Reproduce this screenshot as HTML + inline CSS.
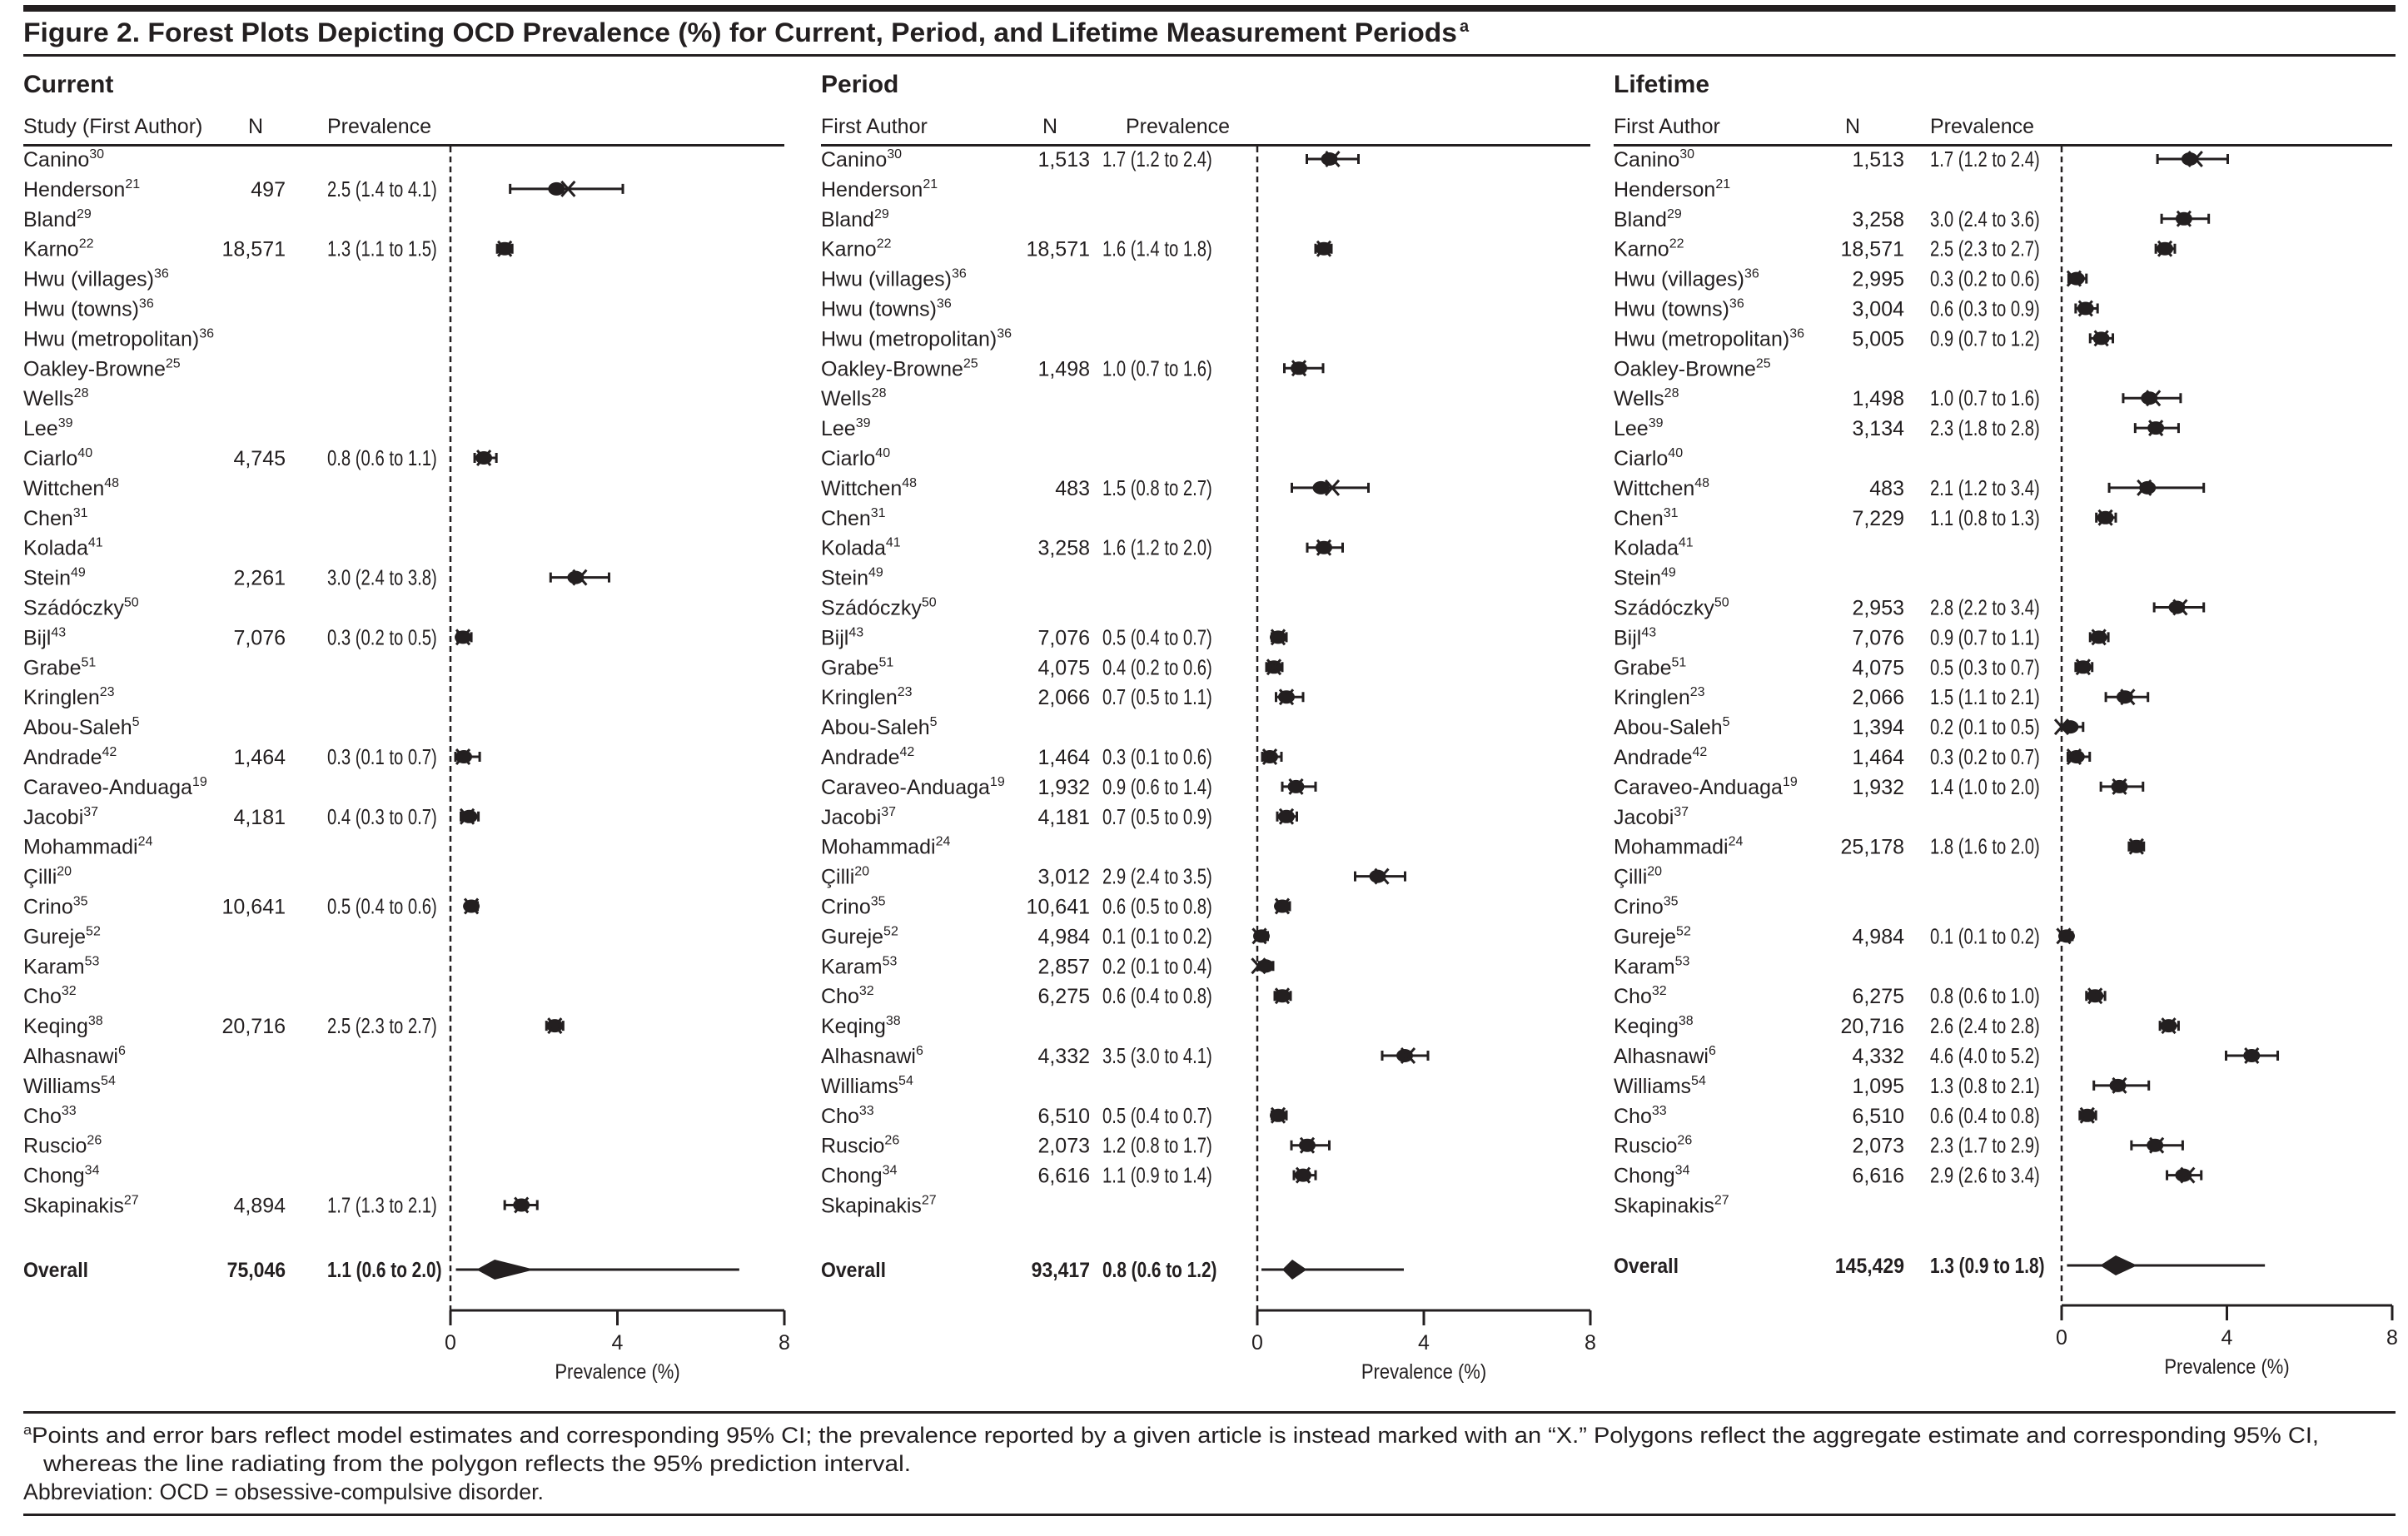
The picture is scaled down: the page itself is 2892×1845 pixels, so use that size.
<!DOCTYPE html>
<html><head><meta charset="utf-8"><style>
html,body{margin:0;padding:0;background:#fff}
svg{display:block}
text{font-family:"Liberation Sans Narrow","Liberation Sans",sans-serif;fill:#231f20}
.b{font-weight:bold}
</style></head><body>
<svg id="fig" xmlns="http://www.w3.org/2000/svg" width="2892" height="1845" viewBox="0 0 2892 1845">
<rect x="28" y="6" width="2849" height="8" fill="#231f20"/>
<text x="28" y="50" font-size="32" class="b" textLength="1722" lengthAdjust="spacingAndGlyphs">Figure 2. Forest Plots Depicting OCD Prevalence (%) for Current, Period, and Lifetime Measurement Periods</text>
<text x="1753" y="38" font-size="20" class="b">a</text>
<rect x="28" y="65" width="2849" height="3" fill="#231f20"/>
<rect x="28" y="1695" width="2849" height="3" fill="#231f20"/>
<text x="28" y="1733" font-size="27" textLength="2757" lengthAdjust="spacingAndGlyphs"><tspan font-size="17" dy="-10">a</tspan><tspan dy="10">Points and error bars reflect model estimates and corresponding 95% CI; the prevalence reported by a given article is instead marked with an “X.” Polygons reflect the aggregate estimate and corresponding 95% CI,</tspan></text>
<text x="52" y="1767" font-size="27" textLength="1042" lengthAdjust="spacingAndGlyphs">whereas the line radiating from the polygon reflects the 95% prediction interval.</text>
<text x="28" y="1801" font-size="27" textLength="625" lengthAdjust="spacingAndGlyphs">Abbreviation: OCD = obsessive-compulsive disorder.</text>
<rect x="28" y="1818" width="2849" height="3" fill="#231f20"/>
<g id="panels"></g>
</svg>
<script>
const names=["Canino","Henderson","Bland","Karno","Hwu (villages)","Hwu (towns)","Hwu (metropolitan)","Oakley-Browne","Wells","Lee","Ciarlo","Wittchen","Chen","Kolada","Stein","Szádóczky","Bijl","Grabe","Kringlen","Abou-Saleh","Andrade","Caraveo-Anduaga","Jacobi","Mohammadi","Çilli","Crino","Gureje","Karam","Cho","Keqing","Alhasnawi","Williams","Cho","Ruscio","Chong","Skapinakis"];
const refs=["30","21","29","22","36","36","36","25","28","39","40","48","31","41","49","50","43","51","23","5","42","19","37","24","20","35","52","53","32","38","6","54","33","26","34","27"];

const curRows=[1,3,10,14,16,20,22,25,29,35];
const curN=["497","18,571","4,745","2,261","7,076","1,464","4,181","10,641","20,716","4,894"];
const curLabel=["2.5 (1.4 to 4.1)","1.3 (1.1 to 1.5)","0.8 (0.6 to 1.1)","3.0 (2.4 to 3.8)","0.3 (0.2 to 0.5)","0.3 (0.1 to 0.7)","0.4 (0.3 to 0.7)","0.5 (0.4 to 0.6)","2.5 (2.3 to 2.7)","1.7 (1.3 to 2.1)"];
const curEst=[2.54,1.3,0.8,3.0,0.3,0.32,0.45,0.5,2.5,1.7];
const curLo=[1.43,1.12,0.58,2.4,0.17,0.12,0.25,0.4,2.3,1.3];
const curHi=[4.13,1.48,1.1,3.8,0.5,0.7,0.67,0.65,2.7,2.08];
const curRep=[2.82,1.3,0.8,3.1,0.3,0.3,0.4,0.5,2.5,1.7];
const curOverall=[1.06,0.62,2.02,0.13,6.92];

const perRows=[0,3,7,11,13,16,17,18,20,21,22,24,25,26,27,28,30,32,33,34];
const perN=["1,513","18,571","1,498","483","3,258","7,076","4,075","2,066","1,464","1,932","4,181","3,012","10,641","4,984","2,857","6,275","4,332","6,510","2,073","6,616"];
const perLabel=["1.7 (1.2 to 2.4)","1.6 (1.4 to 1.8)","1.0 (0.7 to 1.6)","1.5 (0.8 to 2.7)","1.6 (1.2 to 2.0)","0.5 (0.4 to 0.7)","0.4 (0.2 to 0.6)","0.7 (0.5 to 1.1)","0.3 (0.1 to 0.6)","0.9 (0.6 to 1.4)","0.7 (0.5 to 0.9)","2.9 (2.4 to 3.5)","0.6 (0.5 to 0.8)","0.1 (0.1 to 0.2)","0.2 (0.1 to 0.4)","0.6 (0.4 to 0.8)","3.5 (3.0 to 4.1)","0.5 (0.4 to 0.7)","1.2 (0.8 to 1.7)","1.1 (0.9 to 1.4)"];
const perEst=[1.73,1.6,1.0,1.53,1.6,0.5,0.4,0.7,0.3,0.93,0.7,2.89,0.6,0.1,0.2,0.6,3.54,0.5,1.2,1.1];
const perLo=[1.19,1.4,0.65,0.83,1.2,0.35,0.22,0.45,0.12,0.6,0.48,2.35,0.48,0.0,0.05,0.42,3.0,0.35,0.82,0.88];
const perHi=[2.43,1.78,1.58,2.67,2.05,0.7,0.6,1.1,0.58,1.4,0.95,3.55,0.78,0.25,0.38,0.8,4.1,0.7,1.73,1.4];
const perRep=[1.81,1.6,1.0,1.8,1.6,0.5,0.4,0.7,0.3,0.93,0.7,2.99,0.6,0.05,0.03,0.6,3.62,0.5,1.2,1.1];
const perOverall=[0.84,0.6,1.19,0.1,3.52];

const lifRows=[0,2,3,4,5,6,8,9,11,12,15,16,17,18,19,20,21,23,26,28,29,30,31,32,33,34];
const lifN=["1,513","3,258","18,571","2,995","3,004","5,005","1,498","3,134","483","7,229","2,953","7,076","4,075","2,066","1,394","1,464","1,932","25,178","4,984","6,275","20,716","4,332","1,095","6,510","2,073","6,616"];
const lifLabel=["1.7 (1.2 to 2.4)","3.0 (2.4 to 3.6)","2.5 (2.3 to 2.7)","0.3 (0.2 to 0.6)","0.6 (0.3 to 0.9)","0.9 (0.7 to 1.2)","1.0 (0.7 to 1.6)","2.3 (1.8 to 2.8)","2.1 (1.2 to 3.4)","1.1 (0.8 to 1.3)","2.8 (2.2 to 3.4)","0.9 (0.7 to 1.1)","0.5 (0.3 to 0.7)","1.5 (1.1 to 2.1)","0.2 (0.1 to 0.5)","0.3 (0.2 to 0.7)","1.4 (1.0 to 2.0)","1.8 (1.6 to 2.0)","0.1 (0.1 to 0.2)","0.8 (0.6 to 1.0)","2.6 (2.4 to 2.8)","4.6 (4.0 to 5.2)","1.3 (0.8 to 2.1)","0.6 (0.4 to 0.8)","2.3 (1.7 to 2.9)","2.9 (2.6 to 3.4)"];
const lifEst=[3.1,2.96,2.5,0.36,0.58,0.96,2.12,2.28,2.08,1.06,2.79,0.9,0.52,1.53,0.21,0.36,1.40,1.81,0.12,0.81,2.59,4.6,1.36,0.62,2.26,2.95];
const lifLo=[2.32,2.42,2.28,0.17,0.34,0.69,1.49,1.78,1.15,0.84,2.24,0.69,0.34,1.07,0.0,0.15,0.95,1.63,0.0,0.6,2.38,3.98,0.78,0.44,1.69,2.55];
const lifHi=[4.02,3.56,2.74,0.6,0.87,1.24,2.88,2.83,3.44,1.31,3.44,1.13,0.74,2.09,0.52,0.68,1.97,1.99,0.26,1.05,2.83,5.23,2.11,0.83,2.93,3.38];
const lifRep=[3.24,2.96,2.5,0.3,0.58,0.96,2.22,2.28,2.0,1.06,2.87,0.9,0.52,1.6,0.0,0.3,1.4,1.81,0.05,0.81,2.59,4.6,1.4,0.62,2.3,3.05];
const lifOverall=[1.31,0.93,1.83,0.13,4.92];

const axisTicks=[0,4,8];

const NS="http://www.w3.org/2000/svg";
const root=document.getElementById("panels");
function mk(tag,attrs,parent,txt){const e=document.createElementNS(NS,tag);for(const k in attrs)e.setAttribute(k,attrs[k]);if(txt!==undefined)e.textContent=txt;(parent||root).appendChild(e);return e;}
function sq(e,f){const x=+e.getAttribute("x");e.setAttribute("x",x/f);e.setAttribute("transform","scale("+f+",1)");return e;}
const INK="#231f20";

function panel(cfg){
  const g=mk("g",{});
  
  
  const sx=v=>cfg.x0+(cfg.x8-cfg.x0)*v/8;
  const ry=i=>191+35.9*i;
  let t=mk("text",{x:cfg.left,y:111,"font-size":30,"class":"b"},g,cfg.title);
  
  
  t=mk("text",{x:cfg.left,y:160,"font-size":25},g,cfg.hdr);
  
  
  t=mk("text",{x:cfg.nHdr,y:160,"font-size":25},g,"N");
  
  
  t=mk("text",{x:cfg.pHdr,y:160,"font-size":25},g,"Prevalence");
  
  
  let r=mk("rect",{x:cfg.left,y:173,width:cfg.x8-cfg.left,height:3,fill:INK},g);
  
  
  names.forEach((n,i)=>{
    const tx=mk("text",{x:cfg.left,y:ry(i)+9,"font-size":25},g);
    
    
    mk("tspan",{},tx,n);
    mk("tspan",{"font-size":16,dy:-10},tx,refs[i]);
  });
  let l=mk("line",{x1:cfg.x0,y1:176,x2:cfg.x0,y2:cfg.axisY,stroke:INK,"stroke-width":2.5,"stroke-dasharray":"7,5"},g);
  
  
  cfg.rows.forEach((row,k)=>{
    const y=ry(row);
    let tn=mk("text",{x:cfg.nRight,y:y+9,"font-size":25,"text-anchor":"end"},g,cfg.N[k]);
    
    
    let tp=mk("text",{x:cfg.pLeft,y:y+9,"font-size":26},g,cfg.label[k]);
    
    
    sq(tp,0.78);
    const a=sx(cfg.lo[k]),b=sx(cfg.hi[k]);
    let ci=mk("path",{d:`M${a},${y}H${b}M${a},${y-6}V${y+6}M${b},${y-6}V${y+6}`,stroke:INK,"stroke-width":3,fill:"none"},g);
    
    
    let pt=mk("ellipse",{cx:sx(cfg.est[k]),cy:y,rx:10,ry:8,fill:INK},g);
    
    
    const xr=sx(cfg.rep[k]);
    let xm=mk("path",{d:`M${xr-8},${y-9}L${xr+8},${y+9}M${xr-8},${y+9}L${xr+8},${y-9}`,stroke:INK,"stroke-width":3},g);
    
    
  });
  const oy=cfg.overallY;
  let to=mk("text",{x:cfg.left,y:oy+9,"font-size":25,"class":"b"},g,"Overall");
  
  
  sq(to,0.92);
  to=mk("text",{x:cfg.nRight,y:oy+9,"font-size":25,"class":"b","text-anchor":"end"},g,cfg.overallN);
  
  
  sq(to,0.92);
  to=mk("text",{x:cfg.pLeft,y:oy+9,"font-size":26,"class":"b"},g,cfg.overallLabel);
  
  
  sq(to,0.8);
  const o=cfg.overall;
  let pi=mk("line",{x1:sx(o[3]),y1:oy,x2:sx(o[4]),y2:oy,stroke:INK,"stroke-width":3},g);
  
  
  let dm=mk("polygon",{points:`${sx(o[1])},${oy} ${sx(o[0])},${oy-12} ${sx(o[2])},${oy} ${sx(o[0])},${oy+12}`,fill:INK},g);
  
  
  const ay=cfg.axisY;
  let ax=mk("line",{x1:cfg.x0,y1:ay,x2:cfg.x8,y2:ay,stroke:INK,"stroke-width":3},g);
  
  
  axisTicks.forEach(v=>{
    let tk=mk("line",{x1:sx(v),y1:ay,x2:sx(v),y2:ay+18,stroke:INK,"stroke-width":3},g);
    
    
    let tl=mk("text",{x:sx(v),y:ay+47,"font-size":25,"text-anchor":"middle"},g,String(v));
    
    
  });
  let xt=mk("text",{x:(cfg.x0+cfg.x8)/2,y:ay+82,"font-size":25,"text-anchor":"middle"},g,"Prevalence (%)");
  
  
  sq(xt,0.88);
}

panel({key:"current",title:"Current",hdr:"Study (First Author)",left:28,nHdr:298,pHdr:393,nRight:343,pLeft:393,x0:541,x8:942,
  rows:curRows,N:curN,label:curLabel,est:curEst,lo:curLo,hi:curHi,rep:curRep,overall:curOverall,
  overallN:"75,046",overallLabel:"1.1 (0.6 to 2.0)",overallY:1525,axisY:1574});
panel({key:"period",title:"Period",hdr:"First Author",left:986,nHdr:1252,pHdr:1352,nRight:1309,pLeft:1324,x0:1510,x8:1910,
  rows:perRows,N:perN,label:perLabel,est:perEst,lo:perLo,hi:perHi,rep:perRep,overall:perOverall,
  overallN:"93,417",overallLabel:"0.8 (0.6 to 1.2)",overallY:1525,axisY:1574});
panel({key:"lifetime",title:"Lifetime",hdr:"First Author",left:1938,nHdr:2216,pHdr:2318,nRight:2287,pLeft:2318,x0:2476,x8:2873,
  rows:lifRows,N:lifN,label:lifLabel,est:lifEst,lo:lifLo,hi:lifHi,rep:lifRep,overall:lifOverall,
  overallN:"145,429",overallLabel:"1.3 (0.9 to 1.8)",overallY:1520,axisY:1568});
</script>
</body></html>
